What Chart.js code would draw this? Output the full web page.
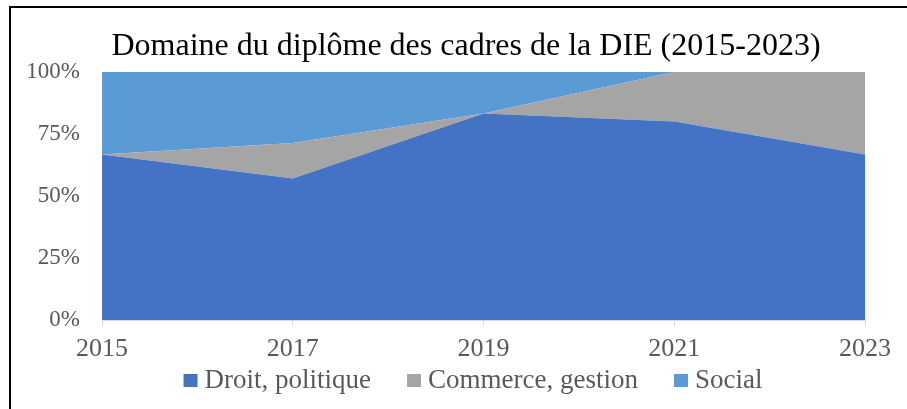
<!DOCTYPE html>
<html>
<head>
<meta charset="utf-8">
<script src="https://cdn.jsdelivr.net/npm/chart.js@4.4.0/dist/chart.umd.min.js"></script>
<style>
	body { margin: 0; background: #fff; }
	canvas { display: block; }
</style>
</head>
<body>
<canvas id="myChart" width="907" height="409"></canvas>
<script>
	var years = ['2015', '2017', '2019', '2021', '2023'];
	var droit = [66.7, 57.1, 83.3, 80, 66.7];
	var commerce = [0, 14.3, 0, 20, 33.3];
	var social = [33.3, 28.6, 16.7, 0, 0];
	var yTicks = [0, 25, 50, 75, 100];
	var titre = 'Domaine du diplôme des cadres de la DIE (2015-2023)';

	var serif = 'Liberation Serif, Times New Roman, serif';

	// cadre noir, titre et legende dessines a la main pour coller au modele
	var decor = {
		id: 'decor',
		afterDraw: function(chart) {
			var c = chart.ctx;
			c.save();

			c.strokeStyle = '#000';
			c.lineWidth = 2;
			c.beginPath();
			c.moveTo(10, 409);
			c.lineTo(10, 7);
			c.lineTo(907, 7);
			c.stroke();

			c.fillStyle = '#000';
			c.font = '32px ' + serif;
			c.textAlign = 'center';
			c.textBaseline = 'middle';
			c.fillText(titre, 466, 47);

			c.font = '27px ' + serif;
			c.textAlign = 'left';
			var items = chart.data.datasets.map(function(ds) {
				return { label: ds.label, color: ds.backgroundColor, w: c.measureText(ds.label).width };
			});
			var total = 0;
			items.forEach(function(it) { total += 14 + 7 + it.w; });
			total += 36 * (items.length - 1);
			var x = 473 - total / 2;
			items.forEach(function(it) {
				c.fillStyle = it.color;
				c.fillRect(x, 374, 14, 13);
				c.fillStyle = '#595959';
				c.fillText(it.label, x + 21, 381);
				x += 14 + 7 + it.w + 36;
			});

			c.restore();
		}
	};

	var ctx = document.getElementById('myChart').getContext('2d');
	var myChart = new Chart(ctx, {
		type: 'line',
		data: {
			labels: years,
			datasets: [
				{
					label: 'Droit, politique',
					data: droit,
					backgroundColor: '#4472C4',
					borderColor: '#4472C4',
					borderWidth: 0,
					fill: 'origin'
				},
				{
					label: 'Commerce, gestion',
					data: commerce,
					backgroundColor: '#A5A5A5',
					borderColor: '#A5A5A5',
					borderWidth: 0,
					fill: '-1'
				},
				{
					label: 'Social',
					data: social,
					backgroundColor: '#5B9BD5',
					borderColor: '#5B9BD5',
					borderWidth: 0,
					fill: '-1'
				}
			]
		},
		options: {
			responsive: false,
			animation: false,
			elements: {
				point: { radius: 0 },
				line: { tension: 0 }
			},
			layout: {
				padding: { left: 0, right: 42, top: 72, bottom: 0 }
			},
			plugins: {
				title: { display: false },
				legend: { display: false },
				tooltip: { enabled: false }
			},
			scales: {
				x: {
					offset: false,
					afterFit: function(scale) {
						scale.height = 89;
					},
					grid: {
						drawOnChartArea: false,
						tickLength: 6,
						color: '#d9d9d9'
					},
					border: { color: '#d9d9d9' },
					ticks: {
						color: '#595959',
						padding: 8,
						maxRotation: 0,
						font: { family: serif, size: 26 }
					}
				},
				y: {
					stacked: true,
					min: 0,
					max: 100,
					afterFit: function(scale) {
						scale.width = 102;
					},
					afterBuildTicks: function(scale) {
						scale.ticks = yTicks.map(function(v) { return { value: v }; });
					},
					grid: { drawTicks: false, color: '#d9d9d9' },
					border: { display: false },
					ticks: {
						color: '#595959',
						padding: 22,
						font: { family: serif, size: 23 },
						callback: function(v) { return v + '%'; }
					}
				}
			}
		},
		plugins: [decor]
	});
</script>
</body>
</html>
